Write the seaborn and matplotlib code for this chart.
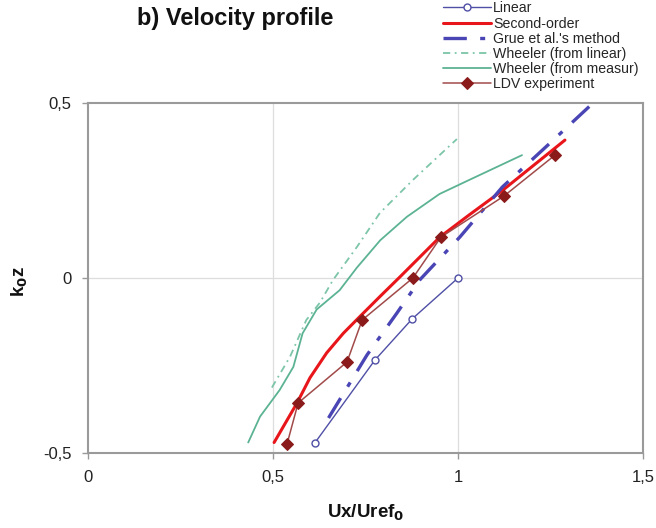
import pandas as pd
import matplotlib.pyplot as plt
import seaborn as sns
from matplotlib.ticker import FuncFormatter

# Values
linear_x = [0.614, 0.775, 0.876, 1.0]
linear_y = [-0.47, -0.235, -0.117, 0.0]

second_x = [0.503, 0.565, 0.60, 0.645, 0.69, 0.735, 0.79, 0.843, 0.951, 1.03, 1.12, 1.289]
second_y = [-0.47, -0.357, -0.285, -0.214, -0.158, -0.11, -0.052, 0.003, 0.117, 0.18, 0.25, 0.394]

grue_x = [0.65, 0.754, 0.835, 0.897, 1.005, 1.12, 1.24, 1.365]
grue_y = [-0.40, -0.22, -0.10, -0.005, 0.117, 0.26, 0.377, 0.50]

wlin_x = [0.497, 0.546, 0.59, 0.627, 0.662, 0.727, 0.789, 0.878, 0.997]
wlin_y = [-0.313, -0.225, -0.12, -0.07, -0.006, 0.089, 0.186, 0.28, 0.397]

wmeas_x = [0.433, 0.465, 0.518, 0.555, 0.58, 0.618, 0.68, 0.727, 0.79, 0.862, 0.95, 1.03, 1.173]
wmeas_y = [-0.47, -0.396, -0.32, -0.254, -0.158, -0.09, -0.035, 0.03, 0.108, 0.175, 0.24, 0.28, 0.351]

ldv_x = [0.538, 0.568, 0.70, 0.741, 0.878, 0.954, 1.124, 1.262]
ldv_y = [-0.474, -0.357, -0.24, -0.12, 0.0, 0.117, 0.234, 0.351]

sns.set_theme(style="white")
plt.rcParams['font.family'] = ['Liberation Sans', 'DejaVu Sans']

fig = plt.figure(figsize=(6.56, 5.28), dpi=100)
ax = fig.add_axes([88 / 656, 1 - 453 / 528, 555 / 656, 350 / 528])

ax.axvline(0.5, color="#dddddd", lw=0.9, zorder=0)
ax.axvline(1.0, color="#dddddd", lw=0.9, zorder=0)
ax.axhline(0.0, color="#dddddd", lw=0.9, zorder=0)

sns.lineplot(x=linear_x, y=linear_y, sort=False, estimator=None, ax=ax, color="#4f4fa6", lw=1,
             marker="o", markersize=5, markerfacecolor="white", markeredgecolor="#4f4fa6",
             markeredgewidth=1, label="Linear")
sns.lineplot(x=second_x, y=second_y, sort=False, estimator=None, ax=ax, color="#e8161b", lw=2.2,
             label="Second-order")
sns.lineplot(x=grue_x, y=grue_y, sort=False, estimator=None, ax=ax, color="#4a45b5", lw=2.4,
             label="Grue et al.'s method")
ax.lines[-1].set_dashes([7, 4, 1.5, 4])
sns.lineplot(x=wlin_x, y=wlin_y, sort=False, estimator=None, ax=ax, color="#7cc5a8", lw=1.3,
             label="Wheeler (from linear)")
ax.lines[-1].set_dashes([4, 2.5, 1, 2.5])
sns.lineplot(x=wmeas_x, y=wmeas_y, sort=False, estimator=None, ax=ax, color="#5cb393", lw=1.3,
             label="Wheeler (from measur)")
sns.lineplot(x=ldv_x, y=ldv_y, sort=False, estimator=None, ax=ax, color="#a24a4a", lw=1.1,
             marker="D", markersize=6.5, markerfacecolor="#8b1a1a", markeredgecolor="#8b1a1a",
             label="LDV experiment")

ax.set_xlim(0, 1.5)
ax.set_ylim(-0.5, 0.5)
ax.set_xticks([0, 0.5, 1, 1.5])
ax.set_yticks([-0.5, 0, 0.5])
comma = FuncFormatter(lambda v, p: ("%g" % v).replace(".", ","))
ax.xaxis.set_major_formatter(comma)
ax.yaxis.set_major_formatter(comma)
ax.tick_params(axis="both", labelsize=12, colors="#222222", length=4, width=1, pad=8,
               bottom=True, left=True, color="#999999")
for s in ax.spines.values():
    s.set_color("#9a9a9a")
    s.set_linewidth(1.5)

ax.set_xlabel("Ux/Uref$_\\mathbf{0}$", fontsize=13.5, fontweight="bold", color="#111111")
ax.set_ylabel("k$_\\mathbf{0}$z", fontsize=13.5, fontweight="bold", color="#111111")
ax.xaxis.set_label_coords(0.5, -0.143)
ax.yaxis.set_label_coords(-0.104, 0.49)

fig.text(137 / 656, 1 - 18 / 528, "b) Velocity profile", fontsize=17, fontweight="bold",
         va="center", ha="left", color="#111111")

handles, labels = ax.get_legend_handles_labels()
ax.get_legend().remove()
fig.legend(handles, labels, loc="upper left", bbox_to_anchor=(435 / 656, 1.012), frameon=False,
           fontsize=10.2, handlelength=3.4, handletextpad=0.15, labelspacing=0.08, borderpad=0.05)

fig.savefig("out.png", dpi=100)
